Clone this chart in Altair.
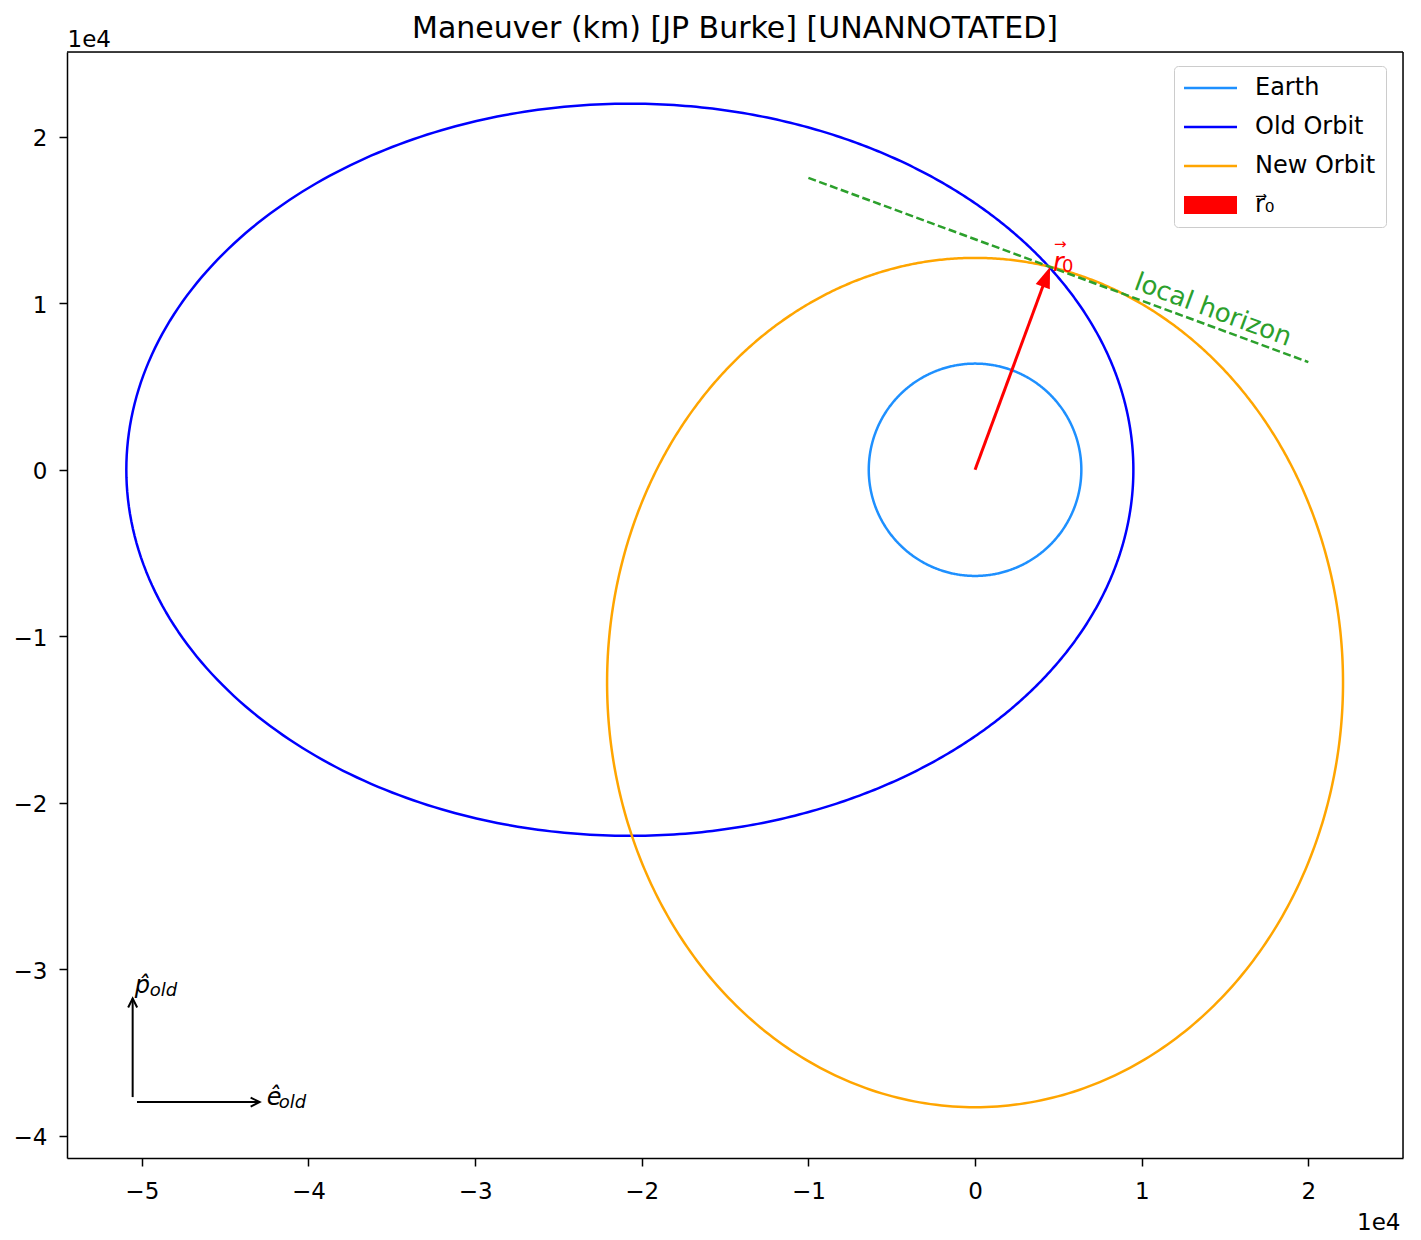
import math

import altair as alt
import numpy as np
import pandas as pd

# ---- orbit description (km, Earth-centred perifocal frame of the old orbit) ----
EARTH_RADIUS = 6378
OLD_RP, OLD_RA, OLD_APSE_DEG = 9500, 50930, 0      # periapsis along +e_old
NEW_RP, NEW_RA, NEW_APSE_DEG = 12730, 38300, 90    # periapsis along +p_old

R0 = [4500, 12190]                 # position vector at the manoeuvre
HORIZON_X = [-10000, 20000]        # local horizon through r0
HORIZON_Y = [17540, 6470]
HORIZON_LABEL_AT = [13940, 8700]

# small basis-vector glyph in the lower-left corner
P_HAT_X = [-50550, -50550]
P_HAT_Y = [-37690, -31770]
E_HAT_X = [-50290, -42930]
E_HAT_Y = [-37990, -37990]

X_DOMAIN = [-54490, 25680]
Y_DOMAIN = [-41350, 25100]
X_TICKS = [-50000, -40000, -30000, -20000, -10000, 0, 10000, 20000]
Y_TICKS = [-40000, -30000, -20000, -10000, 0, 10000, 20000]

SERIES = ["Earth", "Old Orbit", "New Orbit", "r\u20d7\u2080"]
SERIES_COLORS = ["#1e90ff", "#0000ff", "#ffa500", "#ff0000"]
# legend swatches: thin strokes for the curves, a solid patch for the vector
LINE_SWATCH = "M-1.2,-0.12H4.1V0.12H-1.2Z"
PATCH_SWATCH = "M-1.2,-0.9H4.1V0.9H-1.2Z"
SERIES_SHAPES = [LINE_SWATCH, LINE_SWATCH, LINE_SWATCH, PATCH_SWATCH]

FONT = "DejaVu Sans"
W, H = 1336, 1106


def conic(rp, ra, apse_deg, n=721):
    """Points of a focus-centred conic with the given apsides."""
    e = (ra - rp) / (ra + rp)
    p = rp * (1 + e)
    nu = np.linspace(0.0, 2 * np.pi, n)
    r = p / (1 + e * np.cos(nu))
    w = math.radians(apse_deg)
    return pd.DataFrame({"x": r * np.cos(nu + w), "y": r * np.sin(nu + w), "i": np.arange(n)})


earth = conic(EARTH_RADIUS, EARTH_RADIUS, 0)
old_orbit = conic(OLD_RP, OLD_RA, OLD_APSE_DEG)
new_orbit = conic(NEW_RP, NEW_RA, NEW_APSE_DEG)

# screen scale factors, used to orient the arrow heads
sx = W / (X_DOMAIN[1] - X_DOMAIN[0])
sy = H / (Y_DOMAIN[1] - Y_DOMAIN[0])
r0_angle = math.degrees(math.atan2(R0[0] * sx, R0[1] * sy))
r0_len_px = math.hypot(R0[0] * sx, R0[1] * sy)
shaft_frac = 1 - 10 / r0_len_px

x_axis = alt.Axis(
    values=X_TICKS,
    labelExpr="replace(format(datum.value / 10000, 'd'), '-', '\u2212')",
    title="1e4", titleX=1333, titleY=71, titleAlign="right", titleBaseline="alphabetic",
    titleAngle=0, titleFont=FONT, titleFontSize=23, titleFontWeight="normal", titleColor="black",
    grid=False, tickSize=8, tickWidth=1.5, tickColor="black",
    domainColor="black", domainWidth=1.5,
    labelFont=FONT, labelFontSize=23, labelColor="black", labelPadding=14,
    labelFlush=False, labelOverlap=False,
)
y_axis = alt.Axis(
    values=Y_TICKS,
    labelExpr="replace(format(datum.value / 10000, 'd'), '-', '\u2212')",
    title="1e4", titleX=0, titleY=-6, titleAlign="left", titleBaseline="alphabetic",
    titleAngle=0, titleFont=FONT, titleFontSize=23, titleFontWeight="normal", titleColor="black",
    grid=False, tickSize=8, tickWidth=1.5, tickColor="black",
    domainColor="black", domainWidth=1.5,
    labelFont=FONT, labelFontSize=23, labelColor="black", labelPadding=12, labelOffset=2,
    labelFlush=False, labelOverlap=False,
)
xs = alt.Scale(domain=X_DOMAIN, nice=False, zero=False)
ys = alt.Scale(domain=Y_DOMAIN, nice=False, zero=False)
X = alt.X("x:Q", scale=xs, axis=x_axis)
Y = alt.Y("y:Q", scale=ys, axis=y_axis)


def curve(df, color, width=2.5, dash=None):
    kw = dict(color=color, strokeWidth=width, strokeJoin="round")
    if dash:
        kw["strokeDash"] = dash
    return alt.Chart(df).mark_line(**kw).encode(x=X, y=Y, order=alt.Order("i:Q"))


# top and right spines of the axes box
frame_df = pd.DataFrame({
    "x": [X_DOMAIN[0], X_DOMAIN[1]], "x2": [X_DOMAIN[1], X_DOMAIN[1]],
    "y": [Y_DOMAIN[1], Y_DOMAIN[0]], "y2": [Y_DOMAIN[1], Y_DOMAIN[1]],
})
frame = alt.Chart(frame_df).mark_rule(color="black", strokeWidth=1.5).encode(
    x=X, y=Y, x2="x2:Q", y2="y2:Q"
)

earth_layer = curve(earth, SERIES_COLORS[0])
old_layer = curve(old_orbit, SERIES_COLORS[1])
new_layer = curve(new_orbit, SERIES_COLORS[2])
horizon_layer = curve(
    pd.DataFrame({"x": HORIZON_X, "y": HORIZON_Y, "i": [0, 1]}), "#2ca02c", dash=[8, 3.5]
)

# r0 arrow: shaft plus a filled head whose tip sits on r0
r0_df = pd.DataFrame({"x": [R0[0]], "y": [R0[1]], "x0": [0], "y0": [0],
                      "xs": [R0[0] * shaft_frac], "ys": [R0[1] * shaft_frac]})
shaft = alt.Chart(r0_df).mark_rule(color="red", strokeWidth=3).encode(
    x=alt.X("x0:Q", scale=xs, axis=x_axis), y=alt.Y("y0:Q", scale=ys, axis=y_axis),
    x2="xs:Q", y2="ys:Q",
)
head = alt.Chart(r0_df).mark_point(
    shape="M0,0L0.75,2.1L-0.75,2.1Z", size=400, filled=True, color="red", opacity=1,
    angle=r0_angle, strokeWidth=0,
).encode(x=X, y=Y)
r0_r = alt.Chart(r0_df).mark_text(
    text="r", font=FONT, fontSize=26, fontStyle="italic", color="red",
    align="left", baseline="alphabetic", dx=3, dy=4,
).encode(x=X, y=Y)
r0_sub = alt.Chart(r0_df).mark_text(
    text="0", font=FONT, fontSize=18, color="red",
    align="left", baseline="alphabetic", dx=12, dy=5,
).encode(x=X, y=Y)
r0_vec = alt.Chart(r0_df).mark_text(
    text="\u2192", font=FONT, fontSize=15, color="red",
    align="left", baseline="alphabetic", dx=4, dy=-18,
).encode(x=X, y=Y)

horizon_label = alt.Chart(
    pd.DataFrame({"x": [HORIZON_LABEL_AT[0]], "y": [HORIZON_LABEL_AT[1]]})
).mark_text(
    text="local horizon", font=FONT, fontSize=26, color="#2ca02c",
    align="center", baseline="bottom", angle=r0_angle, dy=-3,
).encode(x=X, y=Y)

# basis-vector glyph
p_hat = pd.DataFrame({"x": [P_HAT_X[0]], "y": [P_HAT_Y[0]], "x2": [P_HAT_X[1]], "y2": [P_HAT_Y[1]]})
e_hat = pd.DataFrame({"x": [E_HAT_X[0]], "y": [E_HAT_Y[0]], "x2": [E_HAT_X[1]], "y2": [E_HAT_Y[1]]})
p_tip = pd.DataFrame({"x": [P_HAT_X[1]], "y": [P_HAT_Y[1]]})
e_tip = pd.DataFrame({"x": [E_HAT_X[1]], "y": [E_HAT_Y[1]]})


def basis_shaft(df):
    return alt.Chart(df).mark_rule(color="black", strokeWidth=2).encode(x=X, y=Y, x2="x2:Q", y2="y2:Q")


def basis_head(df, angle):
    return alt.Chart(df).mark_point(
        shape="M-0.9,1.8L0,0L0.9,1.8", size=100, filled=False, color="black",
        strokeWidth=2, opacity=1, angle=angle,
    ).encode(x=X, y=Y)


def basis_text(df, text, size, dx, dy):
    return alt.Chart(df).mark_text(
        text=text, font=FONT, fontSize=size, fontStyle="italic", color="black",
        align="left", baseline="alphabetic", dx=dx, dy=dy,
    ).encode(x=X, y=Y)


basis = [
    basis_shaft(p_hat), basis_head(p_tip, 0),
    basis_shaft(e_hat), basis_head(e_tip, 90),
    basis_text(p_tip, "p\u0302", 24, 2, -6), basis_text(p_tip, "old", 18, 17, -3),
    basis_text(e_tip, "\u00ea", 24, 7, 3), basis_text(e_tip, "old", 18, 19, 6),
]

# legend: driven by colour + shape scales with a fixed domain
legend_def = alt.Legend(
    title=None, orient="none", legendX=1107, legendY=14,
    symbolSize=400, symbolStrokeWidth=0, symbolOffset=0, symbolOpacity=1,
    labelOffset=47, labelFont=FONT, labelFontSize=24, labelColor="black", labelLimit=300,
    rowPadding=15, padding=10, strokeColor="#cccccc", fillColor="white", cornerRadius=4,
)
legend_layer = alt.Chart(pd.DataFrame({"series": SERIES})).transform_filter("false").mark_point(
    filled=True, opacity=1, size=400
).encode(
    color=alt.Color("series:N", scale=alt.Scale(domain=SERIES, range=SERIES_COLORS), legend=legend_def),
    shape=alt.Shape("series:N", scale=alt.Scale(domain=SERIES, range=SERIES_SHAPES), legend=legend_def),
)

chart = alt.layer(
    frame, earth_layer, old_layer, new_layer, horizon_layer, shaft, head,
    r0_vec, r0_r, r0_sub, horizon_label, *basis, legend_layer,
).properties(
    width=W, height=H,
    padding={"left": 67, "top": 52, "right": 18, "bottom": 82},
    autosize="none",
    title=alt.Title(
        "Maneuver (km) [JP Burke] [UNANNOTATED]",
        font=FONT, fontSize=30, fontWeight="normal", color="black",
        anchor="middle", frame="group", offset=8, dy=24,
    ),
).configure_view(stroke="black", strokeWidth=1.5, strokeOpacity=1).configure(background="white")

chart.save("out.html", embed_options={"renderer": "svg", "actions": False})
